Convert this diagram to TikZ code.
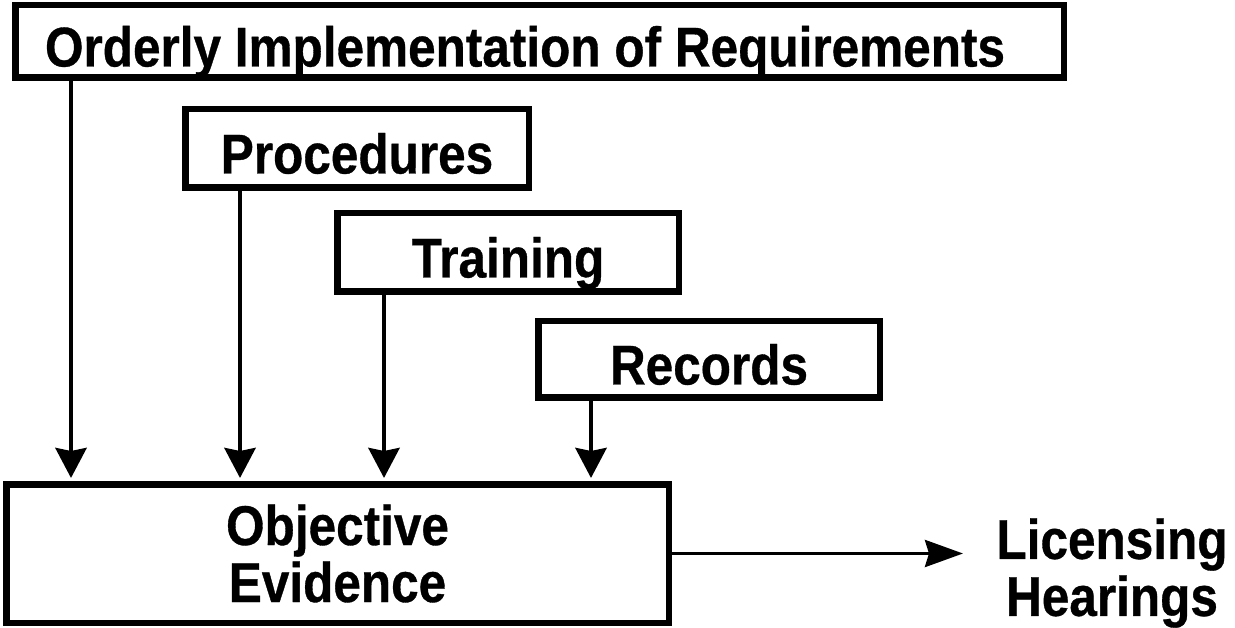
\documentclass[tikz,border=0pt]{standalone}
\usepackage{fontspec}
\setmainfont{Liberation Sans}[FakeStretch=0.884, BoldFeatures={FakeStretch=0.884, FakeBold=0.6}]
\usetikzlibrary{arrows.meta}
\begin{document}
\begin{tikzpicture}[x=1pt,y=1pt,
  bigfont/.style={font=\fontsize{56pt}{57pt}\selectfont\bfseries},
  box/.style={draw, line width=6.5pt, inner sep=0pt, bigfont, align=center},
  oneline/.style={text height=50pt, text depth=0pt},
  feed/.style={line width=4.5pt, -{Stealth[length=30pt,width=31pt,inset=3pt]}, shorten >=3pt},
  outflow/.style={line width=3.5pt, -{Stealth[length=38pt,width=27pt,inset=4pt]}},
  plain/.style={bigfont, align=center, inner sep=0pt}]
\useasboundingbox (0,0) rectangle (1235,-628);

% boxes
\node[box, oneline, minimum width=1048.5pt, minimum height=72.5pt] (req) at (539.5,-41.5)
  {\hspace*{-29pt}Orderly Implementation of Requirements};
\node[box, oneline, minimum width=343.5pt, minimum height=78.5pt] (proc) at (357,-148.5) {Procedures};
\node[box, oneline, minimum width=341.5pt, minimum height=78.5pt] (train) at (508,-252.5) {Training};
\node[box, oneline, minimum width=341.5pt, minimum height=76.5pt] (rec) at (709,-359.5) {Records};
\node[box, minimum width=662.5pt, minimum height=138.5pt] (oe) at (337.5,-553.5) {Objective\\Evidence};

% outcome
\node[plain] (lic) at (1112,-573) {Licensing\\Hearings};

% x positions of the feeding arrows
\coordinate (x1) at (71,0);
\coordinate (x2) at (240,0);
\coordinate (x3) at (384,0);
\coordinate (x4) at (591,0);
\coordinate (tipend) at (963,-553.5);

\draw[feed] (req.south -| x1) -- (oe.north -| x1);
\draw[feed] (proc.south -| x2) -- (oe.north -| x2);
\draw[feed] (train.south -| x3) -- (oe.north -| x3);
\draw[feed] (rec.south -| x4) -- (oe.north -| x4);
\draw[outflow] (oe.east) -- (tipend);
\end{tikzpicture}
\end{document}
